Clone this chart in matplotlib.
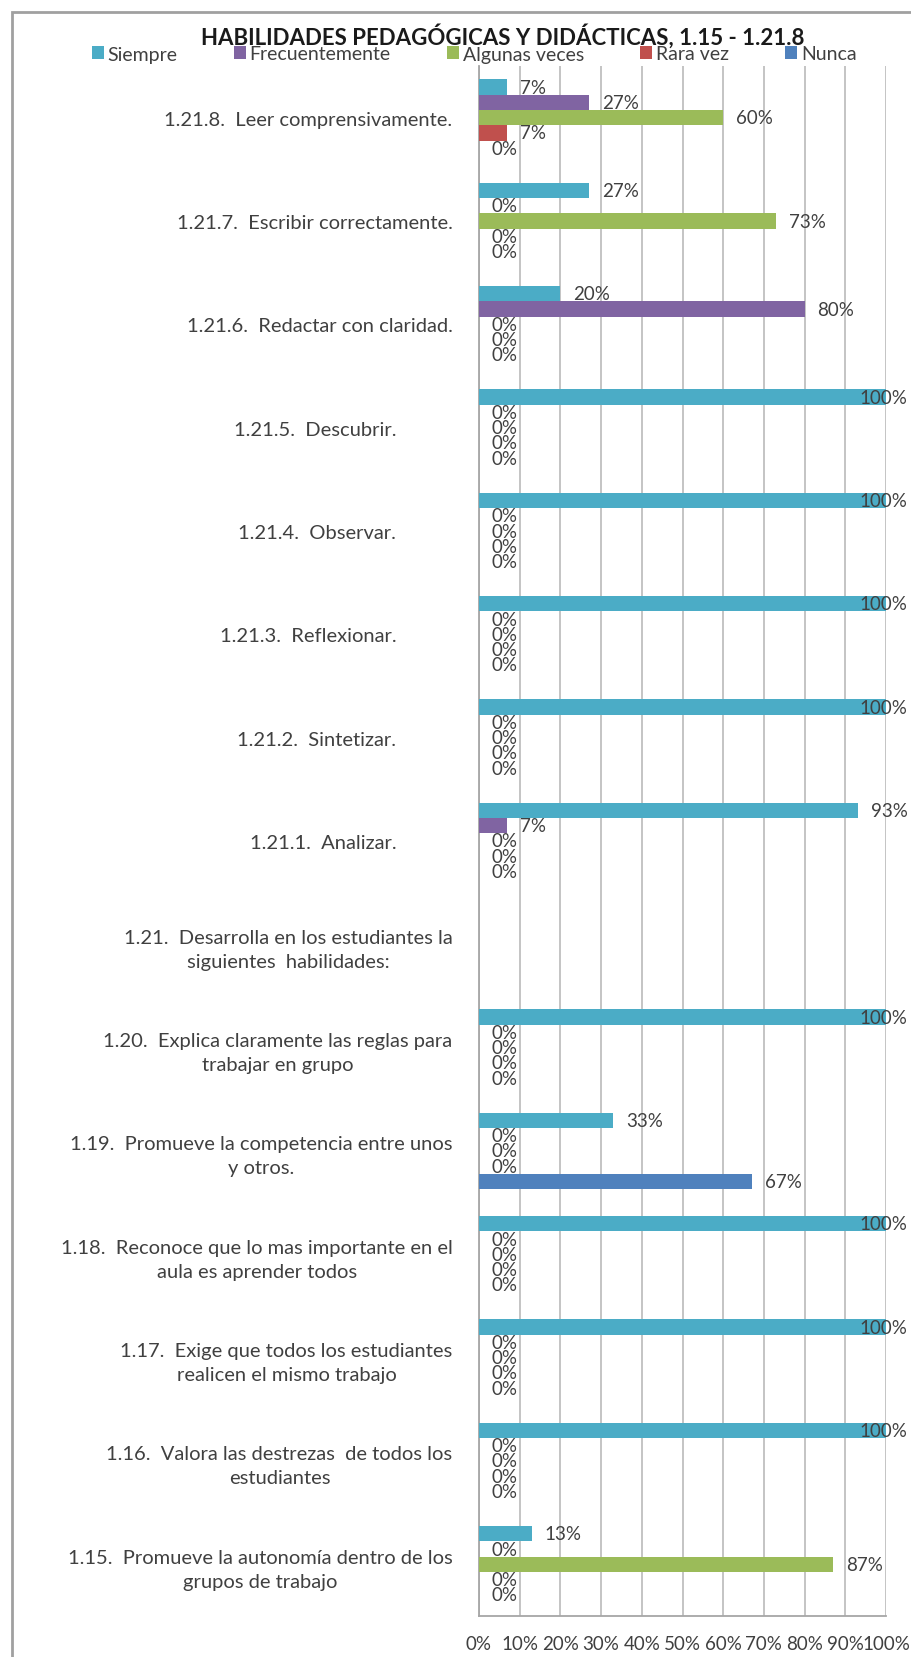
import numpy as np
import matplotlib
matplotlib.use("Agg")
import matplotlib.pyplot as plt
from matplotlib.patches import Rectangle

plt.rcParams["font.family"] = ["Lato", "DejaVu Sans"]

# categories listed bottom -> top
labels = [
    "1.15.  Promueve la autonomía dentro de los\ngrupos de trabajo",
    "1.16.  Valora las destrezas  de todos los\nestudiantes",
    "1.17.  Exige que todos los estudiantes\nrealicen el mismo trabajo",
    "1.18.  Reconoce que lo mas importante en el\naula es aprender todos",
    "1.19.  Promueve la competencia entre unos\ny otros.",
    "1.20.  Explica claramente las reglas para\ntrabajar en grupo",
    "1.21.  Desarrolla en los estudiantes la\nsiguientes  habilidades:",
    "1.21.1.  Analizar.           ",
    "1.21.2.  Sintetizar.           ",
    "1.21.3.  Reflexionar.           ",
    "1.21.4.  Observar.           ",
    "1.21.5.  Descubrir.           ",
    "1.21.6.  Redactar con claridad.",
    "1.21.7.  Escribir correctamente.",
    "1.21.8.  Leer comprensivamente.",
]

series = ["Siempre", "Frecuentemente", "Algunas veces", "Rara vez", "Nunca"]
nan = np.nan
siempre        = [13, 100, 100, 100, 33, 100, nan, 93, 100, 100, 100, 100, 20, 27, 7]
frecuentemente = [0, 0, 0, 0, 0, 0, nan, 7, 0, 0, 0, 0, 80, 0, 27]
algunas_veces  = [87, 0, 0, 0, 0, 0, nan, 0, 0, 0, 0, 0, 0, 73, 60]
rara_vez       = [0, 0, 0, 0, 0, 0, nan, 0, 0, 0, 0, 0, 0, 0, 7]
nunca          = [0, 0, 0, 0, 67, 0, nan, 0, 0, 0, 0, 0, 0, 0, 0]
values = [siempre, frecuentemente, algunas_veces, rara_vez, nunca]

colors = ["#4BACC6", "#8064A2", "#9BBB59", "#C0504D", "#4F81BD"]
text_col = "#404040"

fig = plt.figure(figsize=(9.12, 16.58), dpi=100)
ax = fig.add_axes([479 / 912, 1 - 1617 / 1658, 407 / 912, 1550 / 1658])

y = np.arange(len(labels))
h = 0.148
for i, (name, vals, c) in enumerate(zip(series, values, colors)):
    vals = np.array(vals, dtype=float)
    pos = y + (2 - i) * h
    ax.barh(pos, np.nan_to_num(vals), height=h, color=c, label=name, zorder=3)
    for yy, v in zip(pos, vals):
        if np.isnan(v):
            continue
        if v < 95:
            off, ha = 13, "left"
        else:
            # no room on the right: pull the label back inside the chart
            off, ha = 21, "right"
        ax.annotate("%d%%" % v, (v, yy), xytext=(off * 0.72, 0),
                    textcoords="offset points", ha=ha, va="center",
                    fontsize=13.5, color=text_col, zorder=4,
                    annotation_clip=False)

ax.set_xlim(0, 100)
ax.set_ylim(-0.5, len(labels) - 0.5)
ax.set_xticks(np.arange(0, 101, 10))
ax.set_xticklabels(["%d%%" % t for t in range(0, 101, 10)])
ax.set_yticks(y)
ax.set_yticklabels(labels, multialignment="center", linespacing=1.5)
ax.tick_params(axis="y", length=0, pad=19, labelsize=14.5, labelcolor=text_col)
ax.tick_params(axis="x", length=0, pad=14, labelsize=13.5, labelcolor=text_col)
ax.grid(axis="x", color="#bfbfbf", linewidth=1.3, zorder=0)
for s in ["top", "right"]:
    ax.spines[s].set_visible(False)
for s in ["left", "bottom"]:
    ax.spines[s].set_color("#a6a6a6")
    ax.spines[s].set_linewidth(1.3)

fig.text(0.551, 1 - 36 / 1658, "HABILIDADES PEDAGÓGICAS Y DIDÁCTICAS, 1.15 - 1.21.8",
         ha="center", va="center", fontsize=16, fontweight="bold", color="#1a1a1a")

fig.legend(loc="center", bbox_to_anchor=(0.52, 1 - 55 / 1658), ncol=5,
           frameon=False, fontsize=14, handlelength=0.6, handleheight=0.6,
           handletextpad=0.2, columnspacing=2.9, labelcolor=text_col)

fig.patches.append(Rectangle((12 / 912, -0.1), 1.2, 1 - 13 / 1658 + 0.1,
                             transform=fig.transFigure, fill=False,
                             edgecolor="#a0a0a0", linewidth=2))

fig.savefig("out.png", dpi=100)
